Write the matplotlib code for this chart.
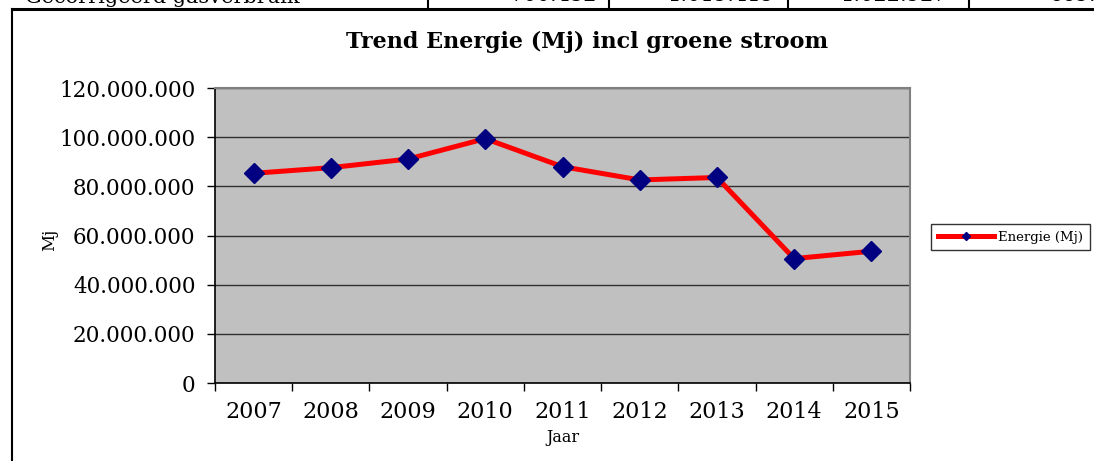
import matplotlib
matplotlib.use('Agg')
import matplotlib.pyplot as plt
from matplotlib.lines import Line2D
from matplotlib.ticker import FuncFormatter

plt.rcParams['font.family'] = ['DejaVu Serif']

# data
jaren = ['2007', '2008', '2009', '2010', '2011', '2012', '2013', '2014', '2015']
energie = [85.3e6, 87.6e6, 91.1e6, 99.4e6, 88.0e6, 82.6e6, 83.6e6, 50.6e6, 53.6e6]

tabel_label = 'Gecorrigeerd gasverbruik'
tabel_waarden = ['700.452', '1.019.419', '1.022.927', '669.4']

W, H = 1094, 461
fig = plt.figure(figsize=(W / 100, H / 100), dpi=100)

def px(x, y):
    return x / W, 1 - y / H

# stukje tabel bovenaan (afgesneden)
fig.add_artist(Line2D([12 / W, 1], [1 - 9 / H] * 2, color='black', lw=2.2))
fig.add_artist(Line2D([12 / W] * 2, [0, 1 - 9 / H], color='black', lw=1.5))
for xs in [428, 609, 788, 969]:
    fig.add_artist(Line2D([xs / W] * 2, [1 - 9 / H, 1], color='black', lw=1.5))
fig.text(*px(25, 3), tabel_label, fontsize=15, va='baseline', ha='left')
for xr, t in zip([597, 774, 947, 1050], tabel_waarden):
    ha = 'left' if xr == 1050 else 'right'
    fig.text(*px(xr, 1), t, fontsize=15, va='baseline', ha=ha)

# grafiek
ax = fig.add_axes([215 / W, 1 - 383 / H, (910 - 215) / W, (383 - 88) / H])
ax.set_facecolor('#c0c0c0')
xs = [i + 0.5 for i in range(len(jaren))]
lijn, = ax.plot(xs, energie, color='red', lw=3.6, marker='D', ms=10.5,
                mfc='#000080', mec='#000080', label='Energie (Mj)', zorder=3)

ax.set_xlim(0, len(jaren))
ax.set_ylim(0, 120e6)
ax.set_yticks(range(0, 120000001, 20000000))
ax.yaxis.set_major_formatter(FuncFormatter(lambda v, p: f'{int(v):,}'.replace(',', '.')))
ax.set_xticks(range(len(jaren) + 1))
ax.set_xticklabels([])
ax.set_xticks(xs, minor=True)
ax.set_xticklabels(jaren, minor=True)
ax.tick_params(axis='x', which='minor', length=0, labelsize=16, pad=13)
ax.tick_params(axis='x', which='major', direction='out', length=6, width=1)
ax.tick_params(axis='y', direction='out', length=6, width=1, labelsize=15.5, pad=8)
ax.yaxis.grid(True, color='#303030', lw=1)
ax.set_axisbelow(True)
for s in ['top', 'right']:
    ax.spines[s].set_color('#808080')
    ax.spines[s].set_linewidth(1.5)
for s in ['left', 'bottom']:
    ax.spines[s].set_color('black')
    ax.spines[s].set_linewidth(1.2)

ax.set_xlabel('Jaar', fontsize=11.5, labelpad=4)
fig.text(*px(50, 240), 'Mj', fontsize=12, rotation=90, ha='center', va='center')
fig.text(*px(587, 42), 'Trend Energie (Mj) incl groene stroom', fontsize=16,
         fontweight='bold', ha='center', va='center')

leg = fig.legend(handles=[Line2D([], [], color='red', lw=3.6, marker='D', ms=4,
                                 mfc='#000080', mec='#000080')],
                 labels=['Energie (Mj)'], loc='center left',
                 bbox_to_anchor=px(931, 237), fontsize=9.5, frameon=True,
                 fancybox=False, edgecolor='black', handlelength=4.3,
                 borderpad=0.5, borderaxespad=0, handletextpad=0.3)
leg.get_frame().set_linewidth(1)

fig.savefig('out.png', dpi=100)
